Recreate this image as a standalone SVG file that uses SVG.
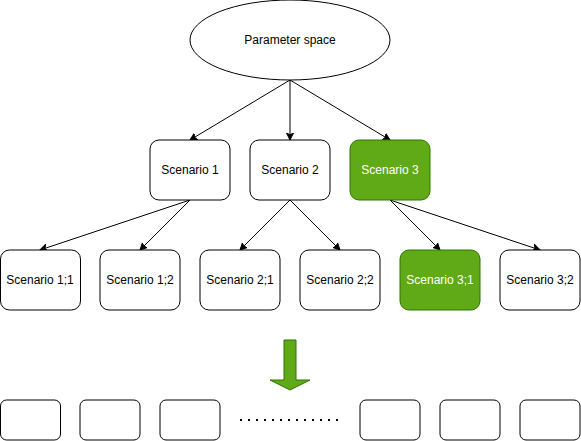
<svg xmlns="http://www.w3.org/2000/svg" width="581" height="441" viewBox="0 0 581 441">
<style>
.n{fill:#ffffff;stroke:#000000;stroke-width:1}
.g{fill:#60a917;stroke:#2d7600;stroke-width:1}
.t{font-family:"Liberation Sans",Arial,sans-serif;font-size:12px;fill:#000000;text-anchor:middle;dominant-baseline:central}
.w{fill:#ffffff}
.e{fill:none;stroke:#000000;stroke-width:1;marker-end:url(#ah)}
</style>
<defs>
<marker id="ah" markerWidth="10" markerHeight="10" refX="7" refY="5" orient="auto" markerUnits="userSpaceOnUse">
<path d="M0,1.5 L7,5 L0,8.5 L1.75,5 Z" fill="#000000" stroke="#000000" stroke-width="1"/>
</marker>
</defs>
<rect width="581" height="441" fill="#ffffff"/>
<g id="connectors">
<path class="e" d="M290,80 L190,140"/>
<path class="e" d="M290,80 L290,140"/>
<path class="e" d="M290,80 L390,140"/>
<path class="e" d="M190,200 L40,250"/>
<path class="e" d="M190,200 L140,250"/>
<path class="e" d="M290,200 L240,250"/>
<path class="e" d="M290,200 L340,250"/>
<path class="e" d="M390,200 L440,250"/>
<path class="e" d="M390,200 L540,250"/>
</g>
<g id="param"><ellipse class="n" cx="290" cy="40" rx="100" ry="40"/><text class="t" x="290" y="40">Parameter space</text></g>
<g id="s1"><rect class="n" x="150" y="140" width="80" height="60" rx="9"/><text class="t" x="190" y="170">Scenario 1</text></g>
<g id="s2"><rect class="n" x="250" y="140" width="80" height="60" rx="9"/><text class="t" x="290" y="170">Scenario 2</text></g>
<g id="s3"><rect class="g" x="350" y="140" width="80" height="60" rx="9"/><text class="t w" x="390" y="170">Scenario 3</text></g>
<g id="s11"><rect class="n" x="0.5" y="250" width="80" height="60" rx="9"/><text class="t" x="40" y="280">Scenario 1;1</text></g>
<g id="s12"><rect class="n" x="100" y="250" width="80" height="60" rx="9"/><text class="t" x="140" y="280">Scenario 1;2</text></g>
<g id="s21"><rect class="n" x="200" y="250" width="80" height="60" rx="9"/><text class="t" x="240" y="280">Scenario 2;1</text></g>
<g id="s22"><rect class="n" x="300" y="250" width="80" height="60" rx="9"/><text class="t" x="340" y="280">Scenario 2;2</text></g>
<g id="s31"><rect class="g" x="400" y="250" width="80" height="60" rx="9"/><text class="t w" x="440" y="280">Scenario 3;1</text></g>
<g id="s32"><rect class="n" x="500" y="250" width="80" height="60" rx="9"/><text class="t" x="540" y="280">Scenario 3;2</text></g>
<g id="bigarrow"><path class="g" d="M284,340 L296,340 L296,380 L310,380 L290,390 L270,380 L284,380 Z"/></g>
<g id="b1"><rect class="n" x="0.5" y="400" width="60" height="40" rx="6"/></g>
<g id="b2"><rect class="n" x="80" y="400" width="60" height="40" rx="6"/></g>
<g id="b3"><rect class="n" x="160" y="400" width="60" height="40" rx="6"/></g>
<g id="dots"><line x1="240" y1="420" x2="340" y2="420" stroke="#000000" stroke-width="2" stroke-dasharray="2 6"/></g>
<g id="b4"><rect class="n" x="360" y="400" width="60" height="40" rx="6"/></g>
<g id="b5"><rect class="n" x="440" y="400" width="60" height="40" rx="6"/></g>
<g id="b6"><rect class="n" x="520" y="400" width="60" height="40" rx="6"/></g>
</svg>
